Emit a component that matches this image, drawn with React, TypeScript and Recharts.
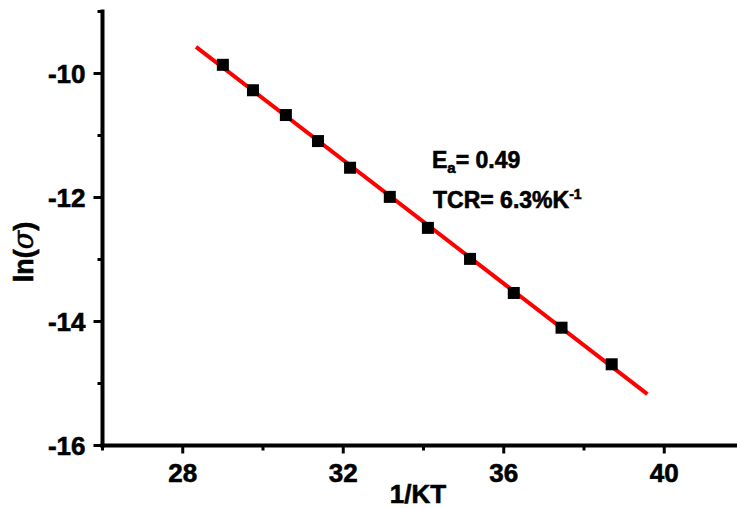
import {
  ComposedChart,
  Line,
  Scatter,
  XAxis,
  YAxis,
} from "recharts";

// measured points, 1/KT vs ln(sigma)
const INV_KT = [29.0, 29.75, 30.57, 31.37, 32.17, 33.16, 34.11, 35.16, 36.25, 37.44, 38.69];
const LN_SIGMA = [-9.86, -10.27, -10.67, -11.09, -11.52, -11.99, -12.49, -12.99, -13.54, -14.1, -14.69];

// linear fit end points
const FIT_X = [28.33, 39.58];
const FIT_Y = [-9.57, -15.17];

const X_TICKS = [26, 28, 30, 32, 34, 36, 38, 40, 42];
const X_MAJOR = [28, 32, 36, 40];
const Y_TICKS = [-16, -15, -14, -13, -12, -11, -10, -9];
const Y_MAJOR = [-16, -14, -12, -10];

const points = INV_KT.map((x, i) => ({ x, y: LN_SIGMA[i] }));
const fit = FIT_X.map((x, i) => ({ x, y: FIT_Y[i] }));

const FONT = '"Liberation Sans", Arial, sans-serif';
// a thin outline makes the bold text as heavy as the original
const BOLD = { fontFamily: FONT, fontWeight: 700, fill: "#000", stroke: "#000", strokeWidth: 0.6 };
const AXIS = { stroke: "#000", strokeWidth: 4, strokeLinecap: "square" as const };

function BottomTick({ x, y, payload }: any) {
  const major = X_MAJOR.includes(payload.value);
  return (
    <g>
      <line x1={x} x2={x} y1={y} y2={y + (major ? 8 : 5)} stroke="#000" strokeWidth={3} />
      {major && (
        <text x={x} y={y + 36.5} textAnchor="middle" style={{ ...BOLD, fontSize: 26 }}>
          {payload.value}
        </text>
      )}
    </g>
  );
}

function TopTick({ x, y, payload }: any) {
  const major = X_MAJOR.includes(payload.value);
  return <line x1={x} x2={x} y1={y} y2={y + (major ? 9 : 5)} stroke="#000" strokeWidth={3} />;
}

function LeftTick({ x, y, payload }: any) {
  const major = Y_MAJOR.includes(payload.value);
  return (
    <g>
      <line x1={x - (major ? 9 : 5)} x2={x} y1={y} y2={y} stroke="#000" strokeWidth={3} />
      {major && (
        <text x={x - 17} y={y + 9.5} textAnchor="end" style={{ ...BOLD, fontSize: 26 }}>
          {payload.value}
        </text>
      )}
    </g>
  );
}

function RightTick({ x, y, payload }: any) {
  const major = Y_MAJOR.includes(payload.value);
  return <line x1={x - (major ? 8 : 4)} x2={x} y1={y} y2={y} stroke="#000" strokeWidth={3} />;
}

function Square({ cx, cy }: any) {
  return <rect x={cx - 6} y={cy - 6} width={12} height={12} fill="#000" />;
}

// axis title plus the two fit notes
const xTitle = () => (
  <g>
    <text x={418} y={503} textAnchor="middle" style={{ ...BOLD, fontSize: 26 }}>
      1/KT
    </text>
    <text x={432} y={168} style={{ ...BOLD, fontSize: 23 }}>
      E<tspan fontSize={15} dy={5}>a</tspan>
      <tspan dy={-5}>= 0.49</tspan>
    </text>
    <text x={433} y={208} style={{ ...BOLD, fontSize: 23 }}>
      TCR= 6.3%K<tspan fontSize={14} dy={-9}>-1</tspan>
    </text>
  </g>
);

const yTitle = () => (
  <text
    x={33}
    y={252}
    transform="rotate(-90 33 252)"
    textAnchor="middle"
    style={{ ...BOLD, fontSize: 27 }}
  >
    ln(<tspan style={{ fontStyle: "italic", fontWeight: 400, fontFamily: '"DejaVu Serif", serif' }}>σ</tspan>)
  </text>
);

export default function App() {
  return (
    <div
      style={{
        position: "fixed",
        left: 0,
        top: 0,
        width: 737,
        height: 508,
        overflow: "hidden",
        background: "#fff",
      }}
    >
      <ComposedChart width={760} height={508} margin={{ top: 11.5, right: 15.5, bottom: 0, left: 0 }}>
        <XAxis
          xAxisId="b"
          dataKey="x"
          type="number"
          domain={[26, 42]}
          ticks={X_TICKS}
          interval={0}
          height={62.5}
          axisLine={AXIS}
          tickLine={false}
          tickSize={0}
          tickMargin={0}
          tick={<BottomTick />}
          label={xTitle}
        />
        <XAxis
          xAxisId="t"
          dataKey="x"
          type="number"
          orientation="top"
          domain={[26, 42]}
          ticks={X_TICKS}
          interval={0}
          height={0}
          axisLine={AXIS}
          tickLine={false}
          tickSize={0}
          tickMargin={0}
          tick={<TopTick />}
        />
        <YAxis
          yAxisId="l"
          dataKey="y"
          type="number"
          domain={[-16, -9]}
          ticks={Y_TICKS}
          interval={0}
          width={102.5}
          axisLine={AXIS}
          tickLine={false}
          tickSize={0}
          tickMargin={0}
          tick={<LeftTick />}
          label={yTitle}
        />
        <YAxis
          yAxisId="r"
          dataKey="y"
          type="number"
          orientation="right"
          domain={[-16, -9]}
          ticks={Y_TICKS}
          interval={0}
          width={0}
          axisLine={AXIS}
          tickLine={false}
          tickSize={0}
          tickMargin={0}
          tick={<RightTick />}
        />
        <Scatter
          xAxisId="b"
          yAxisId="l"
          data={points}
          dataKey="y"
          shape={<Square />}
          isAnimationActive={false}
        />
        <Line
          xAxisId="b"
          yAxisId="l"
          data={fit}
          dataKey="y"
          type="linear"
          stroke="#ff0000"
          strokeWidth={4}
          dot={false}
          activeDot={false}
          isAnimationActive={false}
        />
      </ComposedChart>
    </div>
  );
}
